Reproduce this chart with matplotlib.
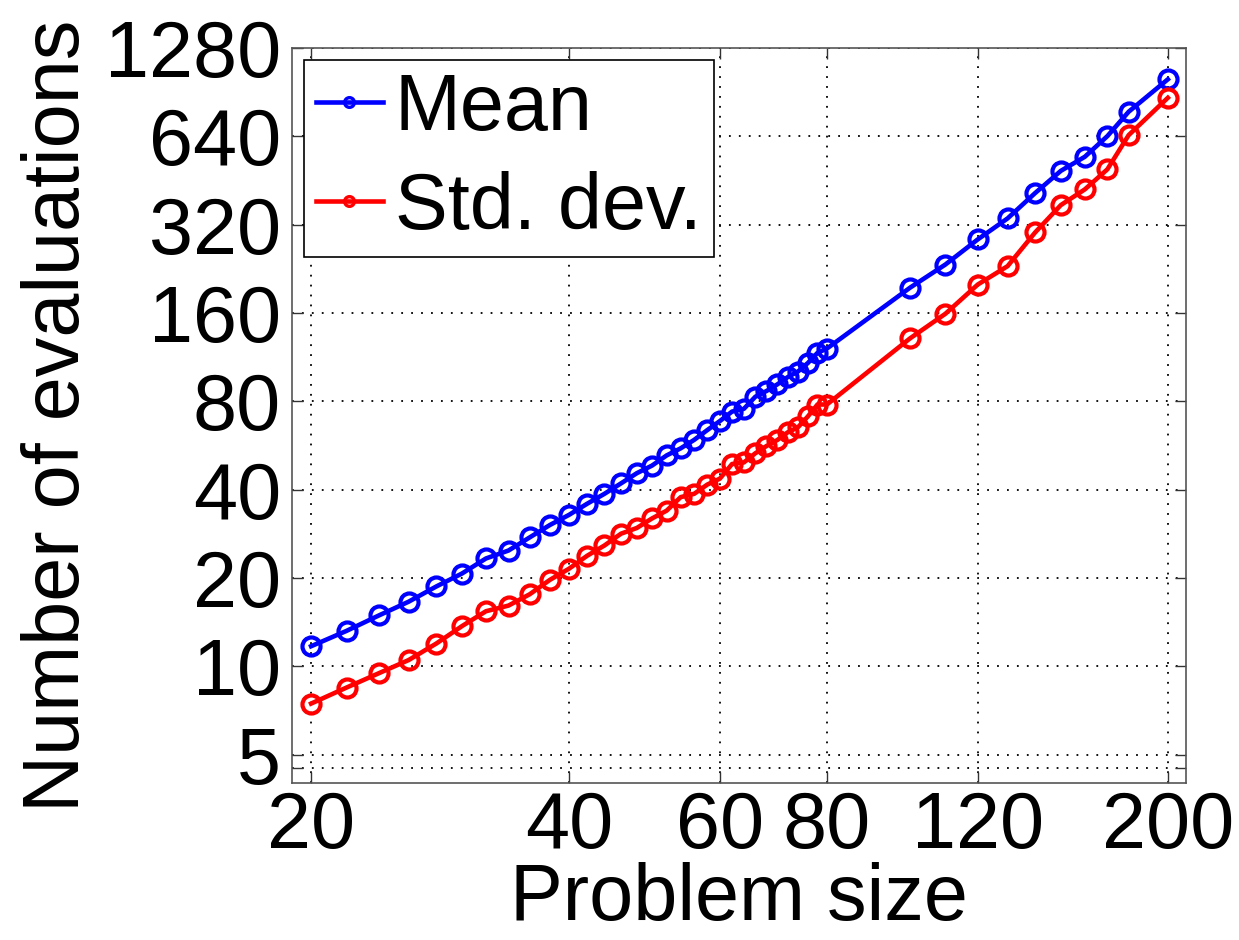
import matplotlib
matplotlib.use('Agg')
import matplotlib.pyplot as plt
from matplotlib.lines import Line2D

plt.rcParams['font.family'] = ['Liberation Sans', 'DejaVu Sans']

# Problem sizes (x) and number of evaluations (y)
sizes = [20, 22, 24, 26, 28, 30, 32, 34, 36, 38, 40, 42, 44, 46, 48, 50,
         52, 54, 56, 58, 60, 62, 64, 66, 68, 70, 72, 74, 76, 78, 80,
         100, 110, 120, 130, 140, 150, 160, 170, 180, 200]
mean_evals = [11.7, 13.2, 14.9, 16.6, 18.7, 20.7, 23.3, 24.8, 27.5, 30.3, 32.8,
              35.8, 38.7, 42.0, 45.5, 48.3, 52.3, 55.3, 59.1, 63.8, 68.5,
              73.8, 75.4, 82.9, 86.7, 91.3, 96.7, 101, 108, 117, 121,
              195, 234, 285, 336, 410, 488, 545, 641, 776, 1001]
std_evals = [7.46, 8.46, 9.47, 10.5, 11.95, 13.7, 15.4, 16.1, 17.6, 19.7, 21.5,
             23.8, 25.8, 28.3, 29.6, 31.9, 33.9, 37.7, 38.7, 41.6, 43.6,
             48.9, 49.5, 53.2, 56.3, 59.0, 62.7, 65.2, 71.0, 78.0, 78.0,
             131, 159, 200, 231, 301, 373, 422, 494, 646, 866]

xticks = [20, 40, 60, 80, 120, 200]
yticks = [4.5, 5, 10, 20, 40, 80, 160, 320, 640, 1280]
ytick_labels = ['', '5', '10', '20', '40', '80', '160', '320', '640', '1280']

fig = plt.figure(figsize=(12.39, 9.40), dpi=100)
ax = fig.add_axes([292 / 1239, 1 - 783 / 940, (1186 - 292) / 1239, (783 - 48) / 940])

style = dict(linewidth=3.3, marker='o', markersize=13, markerfacecolor='none',
             markeredgewidth=3)
ax.plot(sizes, mean_evals, color='#0000ff', **style)
ax.plot(sizes, std_evals, color='#ff0000', **style)

ax.set_xscale('log', base=2)
ax.set_yscale('log', base=2)
ax.set_xlim(19.0, 210)
ax.set_ylim(4.0, 1280)

ax.set_xticks(xticks)
ax.set_xticklabels([str(t) for t in xticks])
ax.set_yticks(yticks)
ax.set_yticklabels(ytick_labels)
ax.minorticks_off()

ax.tick_params(direction='in', length=8, width=1, labelsize=57,
               top=True, right=True, color='#333333', pad=8)
ax.tick_params(axis='x', pad=5)
for sp in ax.spines.values():
    sp.set_color('#555555')
    sp.set_linewidth(1.2)

ax.grid(True, linestyle=(0, (1, 4.5)), color='black', linewidth=1.3)

ax.set_xlabel('Problem size', fontsize=57, labelpad=-2)
ax.set_ylabel('Number of evaluations', fontsize=57, labelpad=6)

handles = [
    Line2D([], [], color='#0000ff', linewidth=3.3, marker='o', markersize=7,
           markerfacecolor='none', markeredgewidth=2.4),
    Line2D([], [], color='#ff0000', linewidth=3.3, marker='o', markersize=7,
           markerfacecolor='none', markeredgewidth=2.4),
]
leg = ax.legend(handles, ['Mean', 'Std. dev.'], loc='upper left', fontsize=57,
                fancybox=False, framealpha=1, edgecolor='black',
                handlelength=0.85, handletextpad=0.15, labelspacing=0.3,
                borderpad=0.15, borderaxespad=0.15)
leg.get_frame().set_linewidth(1.2)

fig.savefig('out.png', dpi=100)
